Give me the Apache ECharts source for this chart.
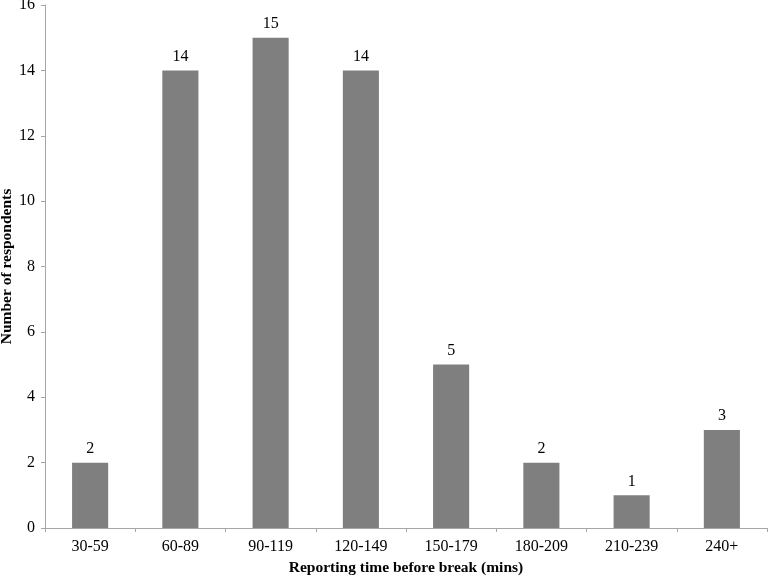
<!DOCTYPE html>
<html><head><meta charset="utf-8">
<script src="https://cdn.jsdelivr.net/npm/echarts@6/dist/echarts.min.js"></script>
<style>html,body{margin:0;padding:0;background:#fff}#c{width:768px;height:576px}</style>
</head><body><div id="c"></div>
<script>
const categories = ['30-59','60-89','90-119','120-149','150-179','180-209','210-239','240+'];
const respondents = [2,14,15,14,5,2,1,3];
const yTicks = {min:0, max:16, interval:2};
const font = '"Liberation Serif","Times New Roman",serif';
const chart = echarts.init(document.getElementById('c'));
chart.setOption({
  animation:false,
  grid:{left:45,right:1,top:5,bottom:48,containLabel:false,outerBoundsMode:'none'},
  xAxis:{type:'category',data:categories,
    name:'Reporting time before break (mins)',nameLocation:'middle',nameGap:32,nameMoveOverlap:false,
    nameTextStyle:{fontFamily:font,fontSize:15.5,fontWeight:'bold',color:'#000'},
    axisLine:{lineStyle:{color:'#a6a6a6'}},
    axisTick:{show:true,length:4,inside:false,lineStyle:{color:'#a6a6a6'}},
    axisLabel:{fontFamily:font,fontSize:16,color:'#000',margin:11}},
  yAxis:{type:'value',min:yTicks.min,max:yTicks.max,interval:yTicks.interval,
    name:'Number of respondents',nameLocation:'middle',nameGap:30,nameRotate:90,nameMoveOverlap:false,
    nameTextStyle:{fontFamily:font,fontSize:15.5,fontWeight:'bold',color:'#000'},
    splitLine:{show:false},
    axisLine:{show:true,lineStyle:{color:'#a6a6a6'}},
    axisTick:{show:true,length:4,lineStyle:{color:'#a6a6a6'}},
    axisLabel:{fontFamily:font,fontSize:16,color:'#000',margin:10}},
  series:[{type:'bar',data:respondents,barWidth:'40%',
    itemStyle:{color:'#7f7f7f'},
    label:{show:true,position:'top',fontFamily:font,fontSize:16,color:'#000',distance:6}}]
});
</script></body></html>
